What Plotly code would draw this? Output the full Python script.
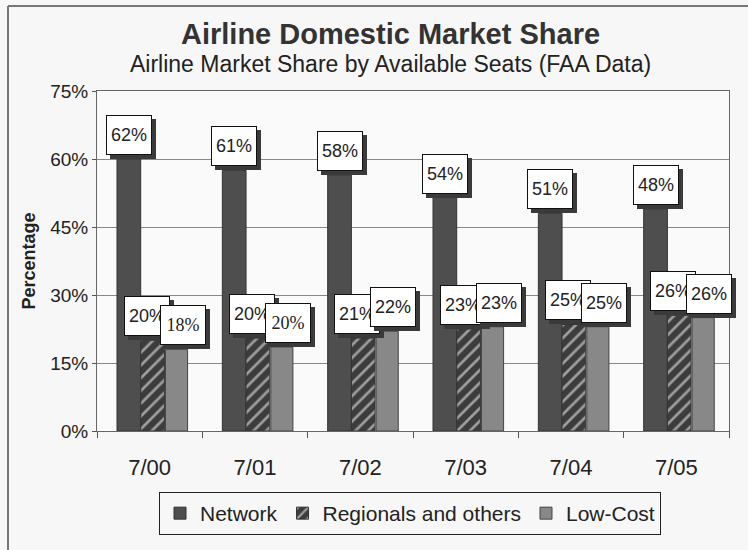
import plotly.graph_objects as go

categories = ["7/00", "7/01", "7/02", "7/03", "7/04", "7/05"]
network = [60, 57.5, 56.5, 51.5, 48, 49]
regionals = [20, 20.5, 20.5, 22.5, 23.5, 25.5]
lowcost = [18, 18.5, 22, 23, 23, 25]
network_labels = ["62%", "61%", "58%", "54%", "51%", "48%"]
regionals_labels = ["20%", "20%", "21%", "23%", "25%", "26%"]
lowcost_labels = ["18%", "20%", "22%", "23%", "25%", "26%"]
yticks = [0, 15, 30, 45, 60, 75]

FONT = "Liberation Sans, Arial, sans-serif"
SERIF = "Liberation Serif, Times New Roman, serif"

L, R, T, B = 97, 19, 91, 119
W, H = 748, 550
pw, ph = W - L - R, H - T - B


def px_x(x):
    return (x - L) / pw


def px_y(y):
    return (H - y - B) / ph


fig = go.Figure()
fig.add_trace(go.Bar(name="Network", x=categories, y=network,
                     offset=-0.31, width=0.225,
                     marker=dict(color="#4e4e4e", line=dict(color="#333", width=1))))
fig.add_trace(go.Bar(name="Regionals and others", x=categories, y=regionals,
                     offset=-0.085, width=0.225,
                     marker=dict(color="#3c3c3c", line=dict(color="#333", width=1),
                                 pattern=dict(shape="/", bgcolor="#3c3c3c", fgcolor="white",
                                              size=9, solidity=0.3))))
fig.add_trace(go.Bar(name="Low-Cost", x=categories, y=lowcost,
                     offset=0.15, width=0.21,
                     marker=dict(color="#888888", line=dict(color="#444", width=1))))

annotations = []
series = [
    (network, network_labels, -0.31 + 0.1125, 0),
    (regionals, regionals_labels, -0.085 + 0.1125, -6),
    (lowcost, lowcost_labels, 0.15 + 0.105, 6),
]
for si, (vals, labs, off, shift) in enumerate(series):
    for i, (v, lab) in enumerate(zip(vals, labs)):
        fam = SERIF if (si == 2 and i < 2) else FONT
        annotations.append(dict(x=i + off, y=v, xref="x", yref="y", text=" ",
                                showarrow=False, yanchor="bottom", xanchor="center",
                                xshift=shift + 4, yshift=0, width=42, height=36,
                                borderpad=1, bgcolor="#3a3a3a", bordercolor="#3a3a3a",
                                borderwidth=1, font=dict(size=18, family=fam)))
        annotations.append(dict(x=i + off, y=v, xref="x", yref="y", text=lab,
                                showarrow=False, yanchor="bottom", xanchor="center",
                                xshift=shift, yshift=4, width=42, height=36,
                                borderpad=1, bgcolor="white", bordercolor="#111",
                                borderwidth=1, font=dict(size=18, family=fam, color="#222")))

annotations.append(dict(x=px_x(390), y=px_y(34), xref="paper", yref="paper",
                        xanchor="center", yanchor="middle",
                        text="<b>Airline Domestic Market Share</b>",
                        showarrow=False, font=dict(size=29, family=FONT, color="#333")))
annotations.append(dict(x=px_x(390), y=px_y(64), xref="paper", yref="paper",
                        xanchor="center", yanchor="middle",
                        text="Airline Market Share by Available Seats (FAA Data)",
                        showarrow=False, font=dict(size=23, family=FONT, color="#222")))

fig.update_layout(
    width=W, height=H,
    margin=dict(l=L, r=R, t=T, b=B),
    paper_bgcolor="#f7f7f7",
    plot_bgcolor="#fafafa",
    barmode="group",
    annotations=annotations,
    font=dict(family=FONT, color="#222"),
    showlegend=True,
    legend=dict(orientation="h", x=px_x(410), xanchor="center", y=px_y(492), yanchor="top",
                bordercolor="#222", borderwidth=1, bgcolor="rgba(0,0,0,0)",
                font=dict(size=21, family=FONT, color="#222"), itemwidth=30,
                traceorder="normal"),
    shapes=[
        dict(type="line", xref="paper", yref="paper", x0=px_x(8), x1=px_x(8),
             y0=px_y(6), y1=px_y(550), line=dict(color="#777", width=2)),
        dict(type="line", xref="paper", yref="paper", x0=px_x(8), x1=px_x(748),
             y0=px_y(6), y1=px_y(6), line=dict(color="#777", width=2)),
    ],
)
fig.update_xaxes(type="category", range=[-0.5, 5.5], showgrid=False,
                 tickson="boundaries", ticks="outside", ticklen=6, tickcolor="#555",
                 showline=True, linecolor="#666", linewidth=1, mirror=True,
                 ticklabelstandoff=17,
                 tickfont=dict(size=22, family=FONT, color="#222"))
fig.update_yaxes(range=[0, 75], tickvals=yticks, ticktext=[f"{t}%" for t in yticks],
                 showgrid=True, gridcolor="#888", gridwidth=1,
                 ticks="outside", ticklen=4, tickcolor="#555",
                 showline=True, linecolor="#666", linewidth=1, mirror=True,
                 tickfont=dict(size=19, family=FONT, color="#222"),
                 title=dict(text="<b>Percentage</b>", font=dict(size=18, family=FONT, color="#222"),
                            standoff=9))

fig.write_html("out.html", config={"displayModeBar": False},
               post_script="document.body.style.margin='0';")
